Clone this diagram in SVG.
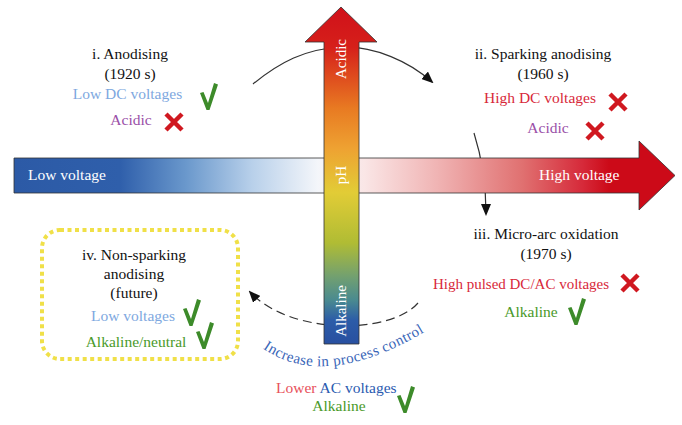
<svg xmlns="http://www.w3.org/2000/svg" width="682" height="425" viewBox="0 0 682 425" font-family="'Liberation Serif', 'Times New Roman', serif">
<style>
text{font-family:'Liberation Serif','Times New Roman',serif;font-size:15.5px}
.t{fill:#111;text-anchor:middle}
.c{text-anchor:middle}
.w{fill:#fff}
.lb{fill:#7ea8e0}
.pu{fill:#9a50a8}
.rd{fill:#d8283a}
.gr{fill:#4a9a2a}
.bl{fill:#3a66b8}
.chk{fill:#3d8b2a}
.x{stroke:#d01820;stroke-width:4.5;fill:none}
.ln{fill:none;stroke:#333;stroke-width:1.2}
.arrowbody{stroke:#333;stroke-width:0.8}
</style>
<defs>
<linearGradient id="hg" gradientUnits="userSpaceOnUse" x1="14" y1="0" x2="675" y2="0">
<stop offset="0" stop-color="#2c5aa6"/>
<stop offset="0.16" stop-color="#2f5fab"/>
<stop offset="0.26" stop-color="#6a98cc"/>
<stop offset="0.36" stop-color="#b8d0ea"/>
<stop offset="0.46" stop-color="#f4f6fa"/>
<stop offset="0.53" stop-color="#fae6e6"/>
<stop offset="0.64" stop-color="#f0b4b4"/>
<stop offset="0.77" stop-color="#e07070"/>
<stop offset="0.86" stop-color="#d62a3a"/>
<stop offset="0.9" stop-color="#cc0a18"/>
<stop offset="1" stop-color="#cc0a18"/>
</linearGradient>
<linearGradient id="vg" gradientUnits="userSpaceOnUse" x1="0" y1="7" x2="0" y2="344">
<stop offset="0" stop-color="#d0101a"/>
<stop offset="0.12" stop-color="#d6201a"/>
<stop offset="0.3" stop-color="#e87a22"/>
<stop offset="0.42" stop-color="#eea232"/>
<stop offset="0.55" stop-color="#e2cc36"/>
<stop offset="0.7" stop-color="#b0bc34"/>
<stop offset="0.8" stop-color="#72a070"/>
<stop offset="0.87" stop-color="#4a8a90"/>
<stop offset="0.93" stop-color="#2c5ca8"/>
<stop offset="1" stop-color="#2850a0"/>
</linearGradient>
<marker id="ah" markerUnits="userSpaceOnUse" markerWidth="12" markerHeight="10" refX="10" refY="5" orient="auto">
<path d="M0,0 L12,5 L0,10 Z" fill="#111"/>
</marker>
<path id="chkp" d="M0,10 L3.5,9 L8,20 L14,0 L18,1.5 L9.5,27 L6.5,27 Z"/>
<path id="xp" d="M2,2 L18,18 M18,2 L2,18"/>
<path id="arcpath" d="M262,348 Q325,392 428,330"/>
</defs>

<g id="connectors">
<path class="ln" d="M253,84 C280,62 305,49 341,47 C375,46 410,62 432,82" marker-end="url(#ah)"/>
<path class="ln" d="M474,133 C481,155 486,185 486,214" marker-end="url(#ah)"/>
<path class="ln" d="M418,303 C390,335 290,335 250,292" stroke-dasharray="9 5" marker-end="url(#ah)"/>
</g>

<g id="voltage-axis">
<path class="arrowbody" d="M14,158 L639,158 L639,141 L675,175.5 L639,210 L639,193 L14,193 Z" fill="url(#hg)"/>
<text class="w" x="28" y="180">Low voltage</text>
<text class="w" x="539" y="180">High voltage</text>
</g>

<g id="ph-axis">
<path class="arrowbody" d="M324,344 L324,42 L305,42 L341,7 L377,42 L359,42 L359,344 Z" fill="url(#vg)"/>
<text class="w c" font-size="15" style="font-size:15px" transform="translate(346,59) rotate(-90)">Acidic</text>
<text class="w c" style="font-size:15px" transform="translate(346,175) rotate(-90)">pH</text>
<text class="w c" style="font-size:15px" transform="translate(346,311) rotate(-90)">Alkaline</text>
</g>

<g id="node-i">
<text class="t" x="130" y="59">i. Anodising</text>
<text class="t" x="130" y="79">(1920 s)</text>
<text class="c lb" x="127.5" y="99">Low DC voltages</text>
<use href="#chkp" class="chk" x="200" y="83"/>
<text class="c pu" x="131" y="125">Acidic</text>
<use href="#xp" class="x" x="164" y="112"/>
</g>

<g id="node-ii">
<text class="t" x="543" y="59">ii. Sparking anodising</text>
<text class="t" x="543" y="79">(1960 s)</text>
<text class="c rd" x="540" y="103">High DC voltages</text>
<use href="#xp" class="x" x="608" y="92"/>
<text class="c pu" x="548" y="133">Acidic</text>
<use href="#xp" class="x" x="585" y="121"/>
</g>

<g id="node-iii">
<text class="t" x="546" y="239">iii. Micro-arc oxidation</text>
<text class="t" x="546" y="259">(1970 s)</text>
<text class="c rd" style="font-size:15px" x="521" y="289">High pulsed DC/AC voltages</text>
<use href="#xp" class="x" x="620" y="273"/>
<text class="c gr" x="531" y="317">Alkaline</text>
<use href="#chkp" class="chk" x="568" y="298"/>
</g>

<g id="node-iv">
<rect x="42" y="230" width="196" height="129" rx="18" fill="none" stroke="#f0e048" stroke-width="4" stroke-dasharray="4 3.5"/>
<text class="t" x="134" y="260">iv. Non-sparking</text>
<text class="t" x="134" y="279">anodising</text>
<text class="t" x="134" y="298">(future)</text>
<text class="c lb" x="133" y="321">Low voltages</text>
<use href="#chkp" class="chk" x="183" y="299"/>
<text class="c gr" x="136" y="347">Alkaline/neutral</text>
<use href="#chkp" class="chk" x="196" y="322"/>
</g>

<g id="process-control">
<text class="bl" style="font-size:15px"><textPath href="#arcpath" startOffset="1" textLength="172" lengthAdjust="spacing">Increase in process control</textPath></text>
</g>

<g id="node-v">
<text x="276" y="393"><tspan fill="#e8505a">Lower</tspan> <tspan fill="#2a5ab0">AC voltages</tspan></text>
<text class="c gr" x="339" y="411">Alkaline</text>
<use href="#chkp" class="chk" x="397" y="386"/>
</g>
</svg>
